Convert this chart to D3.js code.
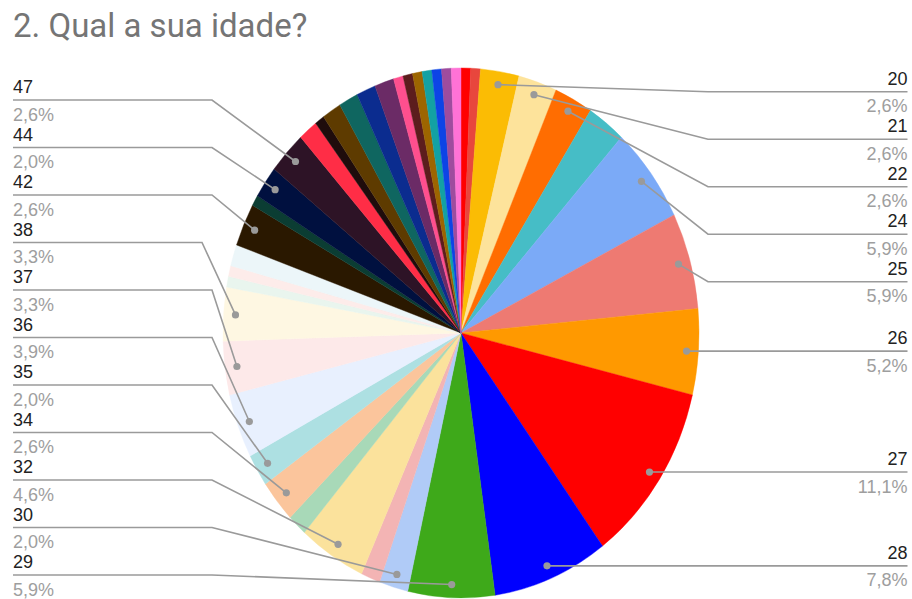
<!DOCTYPE html>
<html>
<head>
<meta charset="utf-8">
<script src="https://cdn.jsdelivr.net/npm/d3@7/dist/d3.min.js"></script>
<style>
  html, body { margin: 0; padding: 0; background: #ffffff; }
  svg { display: block; }
</style>
</head>
<body>
<svg id="chart" width="912" height="599"></svg>
<script>
// ---- DATA ----
const title = "2. Qual a sua idade?";
const ages = ["18","19","20","21","22","23","24","25","26","27","28","29","30","31","32","33","34","35","36","37","38","39","40","41","42","43","44","47","48","49","50","51","52","53","54","55","56","57","58","59","60"];
const counts = [1,1,4,4,4,4,9,9,8,17,12,9,3,2,7,2,4,3,6,5,5,1,1,2,4,1,3,4,2,1,2,2,2,2,1,1,1,1,1,1,1];
const colors = ["#ff0000","#e8463d","#fbbc04","#fde39b","#ff6d01","#46bdc6","#7baaf7","#ee7a72","#ff9900","#ff0000","#0000ff","#3ea91a",
                "#b0cbf7","#f3b4b4","#fbe29c","#a8d9b8","#fbc59c","#ade0e2","#e8f0fe","#fde9e9","#fef7e2","#e9f5ee","#fdecea","#ecf6f9",
                "#2a1800","#0b3d33","#00103f","#2d1326","#ff2d46","#1f0c0c","#5e3b00","#0f6660","#0b2c8f","#6b2b66","#ff4f8e","#5c1d1d",
                "#9d6500","#13a1a3","#0d44e6","#9e4c9e","#ff72d6"];
const labeledAges = ["20","21","22","24","25","26","27","28","29","30","32","34","35","36","37","38","42","44","47"];

// ---- LAYOUT ----
const W = 912, H = 599;
const cx = 461, cy = 333, R = 238, ky = 265 / 238;
const dotFrac = 0.95;
const spacing = 47.5;
const rightTop = 91.7, leftBottom = 575;
const leftX = 13, rightX = 907.5;
const leftBend = 212, rightBend = 708;
const bendOverride = {"38": 202};

const data = ages.map((a, i) => ({age: a, count: counts[i], color: colors[i]}));
const total = d3.sum(counts);

const svg = d3.select("#chart");

svg.append("text")
  .attr("x", 13).attr("y", 37)
  .attr("font-family", "Roboto, 'Liberation Sans', Arial, sans-serif")
  .attr("font-size", 33)
  .attr("fill", "#757575")
  .text(title);

const pie = d3.pie().value(d => d.count).sort(null).startAngle(0).endAngle(2 * Math.PI);
const arcs = pie(data);
const arc = d3.arc().innerRadius(0).outerRadius(R);

const g = svg.append("g").attr("transform", `translate(${cx},${cy}) scale(1,${ky})`);
g.selectAll("path").data(arcs).join("path")
  .attr("d", arc)
  .attr("fill", d => d.data.color)
  .attr("stroke", d => d.data.color)
  .attr("stroke-width", 0.4);

// label anchors
const fmt = v => (v / total * 100).toFixed(1).replace(".", ",") + "%";
const labels = arcs.filter(a => labeledAges.includes(a.data.age)).map(a => {
  const mid = (a.startAngle + a.endAngle) / 2;
  return {
    age: a.data.age,
    pct: fmt(a.data.count),
    mid,
    dx: cx + dotFrac * R * Math.sin(mid),
    dy: cy - dotFrac * R * ky * Math.cos(mid),
    side: mid < Math.PI ? "right" : "left"
  };
});

const right = labels.filter(l => l.side === "right").sort((a, b) => a.dy - b.dy);
let prev = -Infinity;
right.forEach((l, i) => {
  let y = Math.max(l.dy, rightTop);
  if (i > 0) y = Math.max(y, prev + spacing);
  l.ly = y; prev = y;
});
const left = labels.filter(l => l.side === "left").sort((a, b) => b.dy - a.dy);
prev = Infinity;
left.forEach((l, i) => {
  let y = Math.min(l.dy, leftBottom);
  if (i > 0) y = Math.min(y, prev - spacing);
  l.ly = y; prev = y;
});

const lineColor = "#9a9a9a";
const lg = svg.append("g");
labels.forEach(l => {
  let pts;
  if (l.side === "right") {
    if (Math.abs(l.ly - l.dy) < 2) pts = [[l.dx, l.ly], [rightX, l.ly]];
    else pts = [[l.dx, l.dy], [rightBend, l.ly], [rightX, l.ly]];
  } else {
    const bx = bendOverride[l.age] !== undefined ? bendOverride[l.age] : leftBend;
    if (Math.abs(l.ly - l.dy) < 2) pts = [[l.dx, l.ly], [leftX, l.ly]];
    else pts = [[l.dx, l.dy], [bx, l.ly], [leftX, l.ly]];
  }
  lg.append("path")
    .attr("d", d3.line()(pts))
    .attr("fill", "none")
    .attr("stroke", lineColor)
    .attr("stroke-width", 1.6);
  lg.append("circle")
    .attr("cx", l.dx).attr("cy", l.dy).attr("r", 3.6)
    .attr("fill", lineColor);
  const tx = l.side === "right" ? rightX : leftX;
  const anchor = l.side === "right" ? "end" : "start";
  lg.append("text")
    .attr("x", tx).attr("y", l.ly - 7)
    .attr("text-anchor", anchor)
    .attr("font-family", "'Liberation Sans', Arial, sans-serif")
    .attr("font-size", 18)
    .attr("fill", "#222222")
    .text(l.age);
  lg.append("text")
    .attr("x", tx).attr("y", l.ly + 20.5)
    .attr("text-anchor", anchor)
    .attr("font-family", "'Liberation Sans', Arial, sans-serif")
    .attr("font-size", 18)
    .attr("fill", "#9e9e9e")
    .text(l.pct);
});
</script>
</body>
</html>
